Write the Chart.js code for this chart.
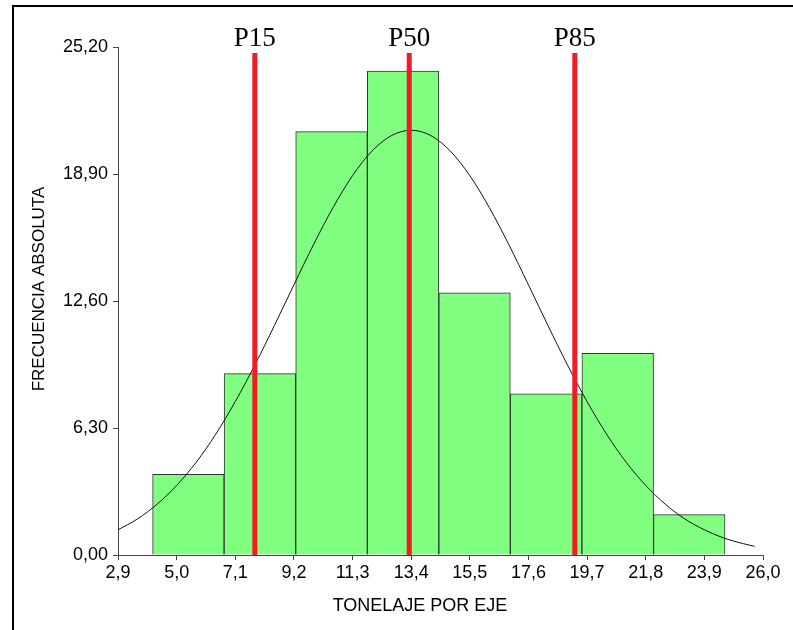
<!DOCTYPE html>
<html><head><meta charset="utf-8">
<script src="https://cdn.jsdelivr.net/npm/chart.js@4.4.0/dist/chart.umd.min.js"></script>
<style>html,body{margin:0;padding:0;background:#fff;overflow:hidden}#wrap{width:793px;height:630px;position:relative}</style>
</head><body><div id="wrap"><canvas id="c" width="793" height="630"></canvas></div>
<script>
// Histogram bins (centers) and absolute frequencies
const binCenters = [5.42, 7.98, 10.55, 13.11, 15.67, 18.23, 20.80, 23.36];
const frequencies = [4, 9, 21, 24, 13, 8, 10, 2];
// Fitted curve
const curveX = [2.9, 3.6, 4.3, 5.0, 5.7, 6.4, 7.1, 7.8, 8.5, 9.2, 9.9, 10.6, 11.3, 12.0, 12.7, 13.4, 14.1, 14.8, 15.5, 16.2, 16.9, 17.6, 18.3, 19.0, 19.7, 20.4, 21.1, 21.8, 22.5, 23.2, 23.9, 24.6, 25.3, 25.7];
const curveY = [1.25, 1.79, 2.52, 3.45, 4.60, 5.99, 7.61, 9.42, 11.38, 13.40, 15.39, 17.23, 18.82, 20.04, 20.81, 21.07, 20.81, 20.04, 18.82, 17.23, 15.39, 13.40, 11.38, 9.42, 7.61, 5.99, 4.60, 3.45, 2.52, 1.79, 1.25, 0.84, 0.56, 0.43];
// Percentile markers
const percentileNames = ['P15', 'P50', 'P85'];
const percentileValues = [7.80, 13.33, 19.26];
const percentileTop = 24.9;
// Axis ticks
const xTicks = [2.9, 5.0, 7.1, 9.2, 11.3, 13.4, 15.5, 17.6, 19.7, 21.8, 23.9, 26.0];
const yTicks = [0, 6.3, 12.6, 18.9, 25.2];
const xTitle = 'TONELAJE POR EJE';
const yTitle = 'FRECUENCIA ABSOLUTA';

Chart.defaults.font.family = "'Liberation Sans', Arial, sans-serif";
Chart.defaults.color = '#000';

const datasets = [];
percentileValues.forEach((p, i) => {
  datasets.push({
    type: 'line', label: percentileNames[i],
    data: [{x: p, y: 0}, {x: p, y: percentileTop}],
    borderColor: '#ee1c24', borderWidth: 5, pointRadius: 0, borderCapStyle: 'butt', order: 0
  });
});
datasets.push({
  type: 'line', label: 'curve',
  data: curveX.map((x, i) => ({x, y: curveY[i]})),
  borderColor: '#111', borderWidth: 1, pointRadius: 0, cubicInterpolationMode: 'monotone', order: 1
});
datasets.push({
  type: 'bar', label: 'freq',
  data: binCenters.map((x, i) => ({x, y: frequencies[i]})),
  backgroundColor: '#80ff80', borderColor: '#333', borderWidth: 1,
  barThickness: 'flex', barPercentage: 1, categoryPercentage: 1, order: 2
});

const framePlugin = {
  id: 'frame',
  beforeDraw(chart) {
    const ctx = chart.ctx;
    ctx.save(); ctx.fillStyle = '#fff'; ctx.fillRect(0, 0, chart.width, chart.height); ctx.restore();
  },
  afterDraw(chart) {
    const ctx = chart.ctx;
    const xs = chart.scales.x, ys = chart.scales.y;
    ctx.save();
    ctx.strokeStyle = '#000'; ctx.lineWidth = 2;
    ctx.beginPath(); ctx.moveTo(13, 640); ctx.lineTo(13, 6); ctx.lineTo(800, 6); ctx.stroke();
    // percentile labels
    ctx.fillStyle = '#000';
    ctx.font = "27px 'Liberation Serif', 'Times New Roman', serif";
    ctx.textAlign = 'center'; ctx.textBaseline = 'alphabetic';
    const ty = ys.getPixelForValue(percentileTop) - 7;
    percentileValues.forEach((p, i) => ctx.fillText(percentileNames[i], xs.getPixelForValue(p), ty));
    // axis titles
    ctx.font = "18px 'Liberation Sans', Arial, sans-serif";
    ctx.textBaseline = 'middle';
    ctx.fillText(xTitle, 420, 606);
    ctx.translate(39, 289); ctx.rotate(-Math.PI / 2);
    ctx.font = "17px 'Liberation Sans', Arial, sans-serif";
    ctx.fillText(yTitle, 0, 0);
    ctx.restore();
  }
};

new Chart(document.getElementById('c'), {
  type: 'bar',
  data: { datasets },
  options: {
    responsive: false, animation: false, devicePixelRatio: 1,
    layout: { padding: { top: 47, right: 30, left: 0, bottom: 0 } },
    plugins: { legend: { display: false }, tooltip: { enabled: false } },
    scales: {
      x: {
        type: 'linear', min: 2.9, max: 26.0, offset: false,
        afterBuildTicks: s => { s.ticks = xTicks.map(v => ({value: v})); },
        afterFit: s => { s.height = 75; },
        ticks: { font: { size: 18 }, padding: 2, maxRotation: 0, autoSkip: false,
          callback: v => Number(v).toFixed(1).replace('.', ',') },
        grid: { display: true, offset: false, drawOnChartArea: false, drawTicks: true, tickLength: 5, color: '#444' },
        border: { display: true, color: '#444' }
      },
      y: {
        type: 'linear', min: 0, max: 25.2,
        afterBuildTicks: s => { s.ticks = yTicks.map(v => ({value: v})); },
        afterFit: s => { s.width = 118; },
        ticks: { font: { size: 18 }, padding: 5, autoSkip: false,
          callback: v => Number(v).toFixed(2).replace('.', ',') },
        grid: { display: true, drawOnChartArea: false, drawTicks: true, tickLength: 5, color: '#444' },
        border: { display: true, color: '#444' }
      }
    }
  },
  plugins: [framePlugin]
});
</script>
</body></html>
